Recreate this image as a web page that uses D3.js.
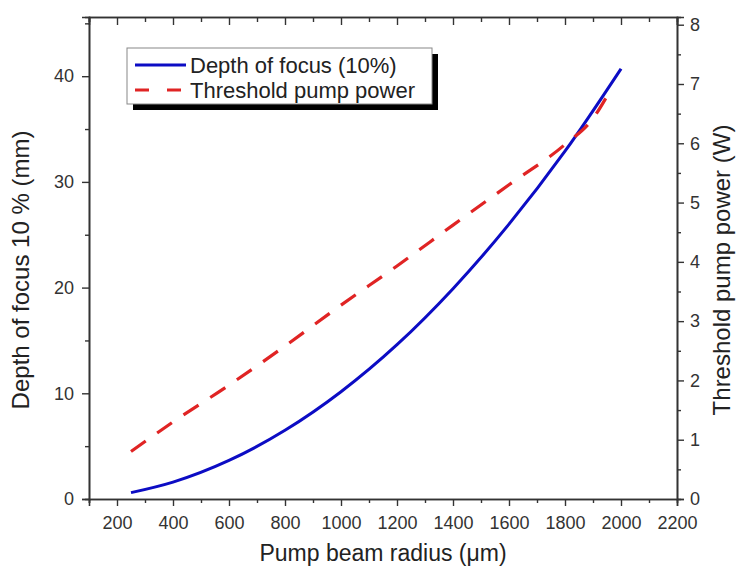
<!DOCTYPE html>
<html><head><meta charset="utf-8">
<script src="https://cdn.jsdelivr.net/npm/d3@7"></script>
<style>
body{margin:0;background:#fff;}
text{font-family:"Liberation Sans",Arial,sans-serif;}
</style></head>
<body><svg id="c" width="736" height="573"></svg>
<script>
// Data
const radius = [250, 400, 600, 800, 1000, 1200, 1400, 1600, 1800, 2000];
const depthOfFocus = [0.6, 1.6, 3.65, 6.5, 10.15, 14.6, 19.9, 26.0, 32.9, 40.7];
const radiusPump = [250, 400, 600, 800, 1000, 1200, 1400, 1600, 1800, 1900, 1965];
const thresholdPower = [0.80, 1.30, 1.92, 2.58, 3.27, 3.93, 4.62, 5.30, 5.98, 6.42, 6.92];
const xTicks = [200, 400, 600, 800, 1000, 1200, 1400, 1600, 1800, 2000, 2200];
const leftTicks = [0, 10, 20, 30, 40];
const rightTicks = [0, 1, 2, 3, 4, 5, 6, 7, 8];
const legendLabels = ["Depth of focus (10%)", "Threshold pump power"];

const svg = d3.select("#c");
const L = 89, R = 677, T = 17, B = 499;
const x = d3.scaleLinear().domain([100, 2200]).range([L, R]);
const yL = d3.scaleLinear().domain([0, 45.6]).range([B, T]);
const yR = d3.scaleLinear().domain([0, 8.13]).range([B, T]);

const axisColor = "#333";
function style(g){
  g.select(".domain").attr("stroke", axisColor).attr("stroke-width", 1.6);
  g.selectAll(".tick line").attr("stroke", axisColor).attr("stroke-width", 1.4);
  g.selectAll(".tick text").attr("fill", "#333").style("font-size", "18px")
    .style("font-family", "'Liberation Sans', Arial, sans-serif");
}
const xMinor = d3.range(100, 2201, 100).filter(v => !xTicks.includes(v));
const lMinor = [5, 15, 25, 35, 45];
const rMinor = [0.5, 1.5, 2.5, 3.5, 4.5, 5.5, 6.5, 7.5];

// bottom
svg.append("g").attr("transform", `translate(0,${B})`)
  .call(d3.axisBottom(x).tickValues(xTicks).tickSize(7).tickPadding(10).tickFormat(d3.format("d")))
  .call(style);
svg.append("g").attr("transform", `translate(0,${B})`)
  .call(d3.axisBottom(x).tickValues(xMinor).tickSize(4).tickFormat(""))
  .call(style);
// top (inward ticks)
svg.append("g").attr("transform", `translate(0,${T})`)
  .call(d3.axisBottom(x).tickValues(xTicks).tickSize(8).tickFormat(""))
  .call(style);
svg.append("g").attr("transform", `translate(0,${T})`)
  .call(d3.axisBottom(x).tickValues(xMinor).tickSize(5).tickFormat(""))
  .call(style);
// left
svg.append("g").attr("transform", `translate(${L},0)`)
  .call(d3.axisLeft(yL).tickValues(leftTicks).tickSize(7).tickPadding(8))
  .call(style);
svg.append("g").attr("transform", `translate(${L},0)`)
  .call(d3.axisLeft(yL).tickValues(lMinor).tickSize(4).tickFormat(""))
  .call(style);
// right
svg.append("g").attr("transform", `translate(${R},0)`)
  .call(d3.axisRight(yR).tickValues(rightTicks).tickSize(7).tickPadding(6))
  .call(style);
svg.append("g").attr("transform", `translate(${R},0)`)
  .call(d3.axisRight(yR).tickValues(rMinor).tickSize(4).tickFormat(""))
  .call(style);

// lines
const blueLine = d3.line().x((d,i) => x(radius[i])).y(d => yL(d)).curve(d3.curveMonotoneX);
svg.append("path").datum(depthOfFocus).attr("d", blueLine)
  .attr("fill", "none").attr("stroke", "#0c0cc4").attr("stroke-width", 3);
const redLine = d3.line().x((d,i) => x(radiusPump[i])).y(d => yR(d)).curve(d3.curveMonotoneX);
svg.append("path").datum(thresholdPower).attr("d", redLine)
  .attr("fill", "none").attr("stroke", "#e02424").attr("stroke-width", 3.2)
  .attr("stroke-dasharray", "18,14");

// axis titles
svg.append("text").attr("x", (L+R)/2).attr("y", 561).attr("text-anchor", "middle")
  .attr("fill", "#222").style("font-size", "23px").text("Pump beam radius (\u03BCm)");
svg.append("text").attr("transform", `translate(29,270) rotate(-90)`).attr("text-anchor", "middle")
  .attr("fill", "#222").style("font-size", "24px").text("Depth of focus 10 % (mm)");
svg.append("text").attr("transform", `translate(730,270) rotate(-90)`).attr("text-anchor", "middle")
  .attr("fill", "#222").style("font-size", "24px").text("Threshold pump power (W)");

// legend
const lg = svg.append("g");
lg.append("rect").attr("x", 133).attr("y", 54).attr("width", 305).attr("height", 56).attr("fill", "#000");
lg.append("rect").attr("x", 127).attr("y", 48).attr("width", 305).attr("height", 56)
  .attr("fill", "#fff").attr("stroke", "#888").attr("stroke-width", 1);
lg.append("line").attr("x1", 135).attr("x2", 186).attr("y1", 65).attr("y2", 65)
  .attr("stroke", "#0c0cc4").attr("stroke-width", 3);
lg.append("line").attr("x1", 135).attr("x2", 186).attr("y1", 90).attr("y2", 90)
  .attr("stroke", "#e02424").attr("stroke-width", 3.2).attr("stroke-dasharray", "14,18");
lg.selectAll("text.lab").data(legendLabels).enter().append("text")
  .attr("x", 190).attr("y", (d,i) => 73 + i*25).attr("fill", "#222")
  .style("font-size", "22px").text(d => d);
</script></body></html>
